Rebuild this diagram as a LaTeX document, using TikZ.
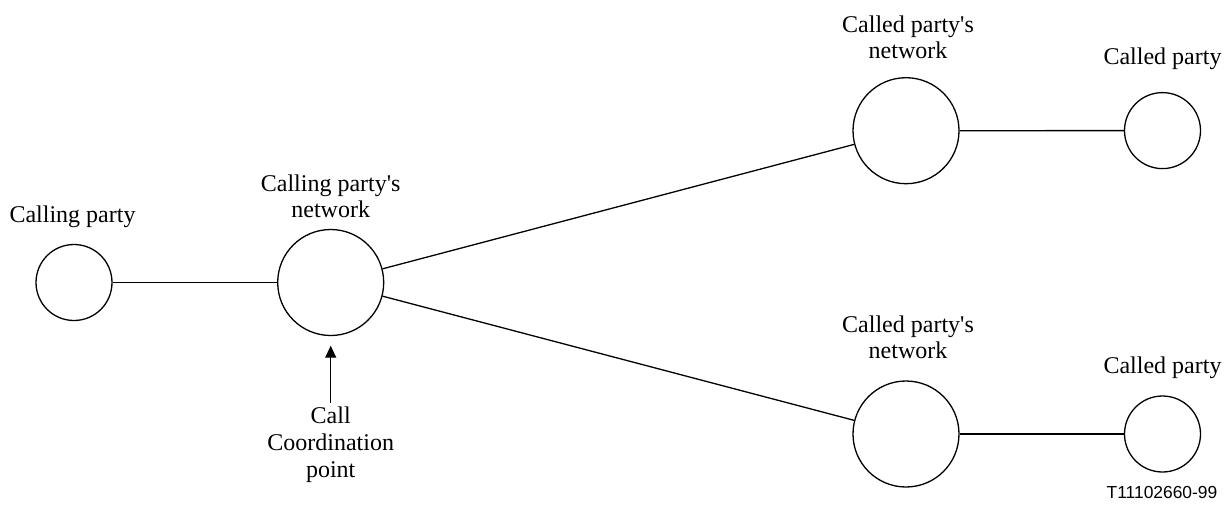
\documentclass[tikz,border=0pt]{standalone}
\usepackage{fontspec}
\setmainfont{Liberation Serif}
\newfontfamily\codefont{Liberation Sans}
\usetikzlibrary{arrows.meta}
\begin{document}
\begin{tikzpicture}[x=0.5pt,y=-0.5pt, line width=0.65pt,
  party/.style={circle, draw, minimum size=38pt, inner sep=0pt},
  net/.style={circle, draw, minimum size=53pt, inner sep=0pt},
  lbl/.style={align=center, font=\fontsize{12}{13}\selectfont, inner sep=0pt},
  link/.style={draw},
  pointer/.style={draw, line width=0.55pt, -{Triangle[width=5.5pt,length=6pt]}}]
\useasboundingbox[fill=white] (0,0) rectangle (1226,504);

% circles
\node[party] (cp)  at (74,282.5) {};
\node[net]   (cpn) at (330.7,282.5) {};
\node[net]   (tn)  at (906,130.7) {};
\node[party] (tp)  at (1162.5,130.6) {};
\node[net]   (bn)  at (906,434) {};
\node[party] (bp)  at (1162.5,434) {};

% labels
\node[lbl] (cpl)  at (72.5,216.7) {Calling party};
\node[lbl] (cpnl) at (330.7,196) {Calling party\textquotesingle s\\network};
\node[lbl] (tnl)  at (908,37.5) {Called party\textquotesingle s\\network};
\node[lbl] (tpl)  at (1162.5,59) {Called party};
\node[lbl] (bnl)  at (908,337.5) {Called party\textquotesingle s\\network};
\node[lbl] (bpl)  at (1162.5,368) {Called party};
\node[lbl, font=\fontsize{12}{13.5}\selectfont] (ccp) at (330.7,445) {Call\\Coordination\\point};
\node[inner sep=0pt, font=\codefont\fontsize{8.7}{10}\selectfont] (code) at (1162,493) {T11102660-99};

% connectors
\draw[link] (cp) -- (cpn);
\draw[link] (cpn) -- (tn);
\draw[link] (cpn) -- (bn);
\draw[link] (tn) -- (tp);
\draw[link] (bn) -- (bp);

\coordinate (shaft) at (330.7,402.7);
\coordinate (tip) at (330.7,345.7);
\draw[pointer] (shaft) -- (tip);
\end{tikzpicture}
\end{document}
